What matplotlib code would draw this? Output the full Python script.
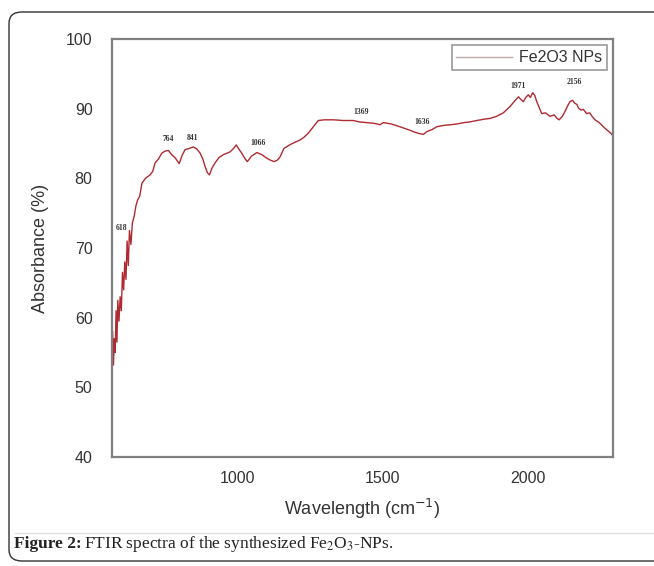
import matplotlib
matplotlib.use("Agg")
import matplotlib.pyplot as plt
from matplotlib.patches import FancyBboxPatch
from matplotlib.lines import Line2D

plt.rcParams['font.family'] = ['Liberation Sans', 'DejaVu Sans']

# ---- data ----
wavenumber = [572, 575, 578, 581, 584, 587, 590, 594, 598, 602, 606, 610, 614,
              618, 622, 626, 630, 635, 640, 646, 652, 658, 665, 673, 685, 701,
              710, 718, 730, 741, 752, 764, 775, 788, 801, 811, 821, 835, 850,
              862, 873, 882, 890, 898, 905, 914, 924, 938, 953, 965, 976, 988,
              997, 1006, 1016, 1026, 1035, 1050, 1068, 1085, 1102, 1115, 1127,
              1138, 1148, 1161, 1185, 1216, 1230, 1245, 1262, 1279, 1300, 1331,
              1365, 1399, 1420, 1446, 1470, 1491, 1503, 1530, 1560, 1580, 1594,
              1612, 1629, 1640, 1652, 1670, 1686, 1710, 1735, 1755, 1780, 1800,
              1824, 1850, 1870, 1892, 1915, 1938, 1952, 1967, 1976, 1984, 1992,
              2001, 2008, 2016, 2023, 2030, 2038, 2047, 2060, 2075, 2090, 2100,
              2107, 2118, 2127, 2136, 2144, 2153, 2160, 2168, 2173, 2182, 2190,
              2201, 2212, 2220, 2230, 2245, 2259, 2272, 2284, 2292]
absorbance = [58.0, 53.2, 57.0, 55.0, 61.0, 56.5, 62.5, 59.5, 63.0, 61.0, 66.5,
              64.0, 68.0, 65.5, 71.0, 67.5, 72.5, 70.5, 73.6, 74.5, 76.0, 76.9,
              77.4, 79.3, 80.0, 80.5, 81.0, 82.2, 82.8, 83.6, 83.9, 84.0, 83.4,
              82.9, 82.1, 83.3, 84.1, 84.3, 84.5, 84.2, 83.6, 82.8, 81.7, 80.8,
              80.5, 81.5, 82.2, 83.0, 83.4, 83.6, 83.8, 84.3, 84.8, 84.2, 83.6,
              82.9, 82.4, 83.2, 83.7, 83.4, 82.9, 82.6, 82.4, 82.6, 83.1, 84.3,
              84.9, 85.5, 85.9, 86.5, 87.4, 88.3, 88.4, 88.4, 88.3, 88.3, 88.1,
              88.0, 87.9, 87.7, 88.0, 87.8, 87.4, 87.1, 86.9, 86.6, 86.4, 86.3,
              86.7, 87.0, 87.4, 87.6, 87.7, 87.8, 88.0, 88.1, 88.3, 88.5, 88.6,
              88.9, 89.4, 90.3, 91.0, 91.7, 91.3, 91.0, 91.6, 92.0, 91.6, 92.3,
              91.9, 91.0, 90.2, 89.3, 89.4, 88.9, 89.1, 88.6, 88.4, 88.9, 89.6,
              90.4, 91.0, 91.2, 90.8, 90.6, 90.1, 89.8, 89.9, 89.3, 89.4, 88.9,
              88.4, 88.0, 87.4, 86.9, 86.5, 86.1]

peak_labels = ["618", "764", "841", "1066", "1369", "1636", "1971", "2156"]
peak_x = [603, 764, 846, 1072, 1426, 1636, 1965, 2158]
peak_y = [72.3, 85.1, 85.2, 84.5, 89.0, 87.5, 92.7, 93.3]

series_name = "Fe2O3 NPs"
x_ticks = [1000, 1500, 2000]
y_ticks = [40, 50, 60, 70, 80, 90, 100]

# ---- figure ----
W, H = 654, 566
fig = plt.figure(figsize=(W / 100, H / 100), dpi=100)
fig.patch.set_facecolor("white")

# outer rounded frame (right side runs off the picture)
frame = FancyBboxPatch((9 / W, 1 - 561 / H), (760 - 9) / W, (561 - 12) / H,
                       boxstyle="round,pad=0,rounding_size=0.02",
                       transform=fig.transFigure, fill=False,
                       edgecolor="#333333", linewidth=1.0, clip_on=True)
fig.patches.append(frame)
fig.add_artist(Line2D([15 / W, 1.0], [1 - 533 / H, 1 - 533 / H],
                      transform=fig.transFigure, color="#e3e3e3", linewidth=1.0))

ax = fig.add_axes([112 / W, 1 - 457 / H, (613 - 112) / W, (457 - 39) / H])
ax.plot(wavenumber, absorbance, color="#b02a32", linewidth=1.0,
        label=series_name)
ax.set_xlim(570, 2292)
ax.set_ylim(40, 100)
ax.set_xticks(x_ticks)
ax.set_yticks(y_ticks)
ax.tick_params(length=0, labelsize=11.5, colors="#333333", pad=10)
ax.tick_params(axis="y", pad=14)
for s in ax.spines.values():
    s.set_color("#808080")
    s.set_linewidth(1.6)

for lab, px, py in zip(peak_labels, peak_x, peak_y):
    ax.text(px, py, lab, fontsize=5.5, family="Liberation Serif",
            fontweight="bold", ha="center", va="bottom", color="#333333")

ax.set_xlabel("Wavelength (cm$^{-1}$)", fontsize=13, color="#333333",
              labelpad=8)
ax.set_ylabel("Absorbance (%)", fontsize=13, color="#333333", labelpad=12)

leg = ax.legend(loc="upper right", fontsize=11.5, frameon=True, fancybox=False,
                handlelength=3.5, borderpad=0.3, handletextpad=0.4,
                borderaxespad=0.4)
leg.get_frame().set_edgecolor("#808080")
leg.get_frame().set_linewidth(1.2)
for t in leg.get_texts():
    t.set_color("#333333")
leg.get_lines()[0].set_color("#c0a8a8")

# caption
fig.text(14 / W, 1 - 544 / H, "Figure 2:", fontsize=12.5,
         family="Liberation Serif", fontweight="bold", va="center",
         color="#222222")
fig.text(84 / W, 1 - 544 / H,
         "FTIR spectra of the synthesized Fe$_2$O$_3$-NPs.",
         fontsize=12.5, family="Liberation Serif", va="center",
         color="#222222", math_fontfamily="stix")

fig.savefig("out.png", dpi=100)
